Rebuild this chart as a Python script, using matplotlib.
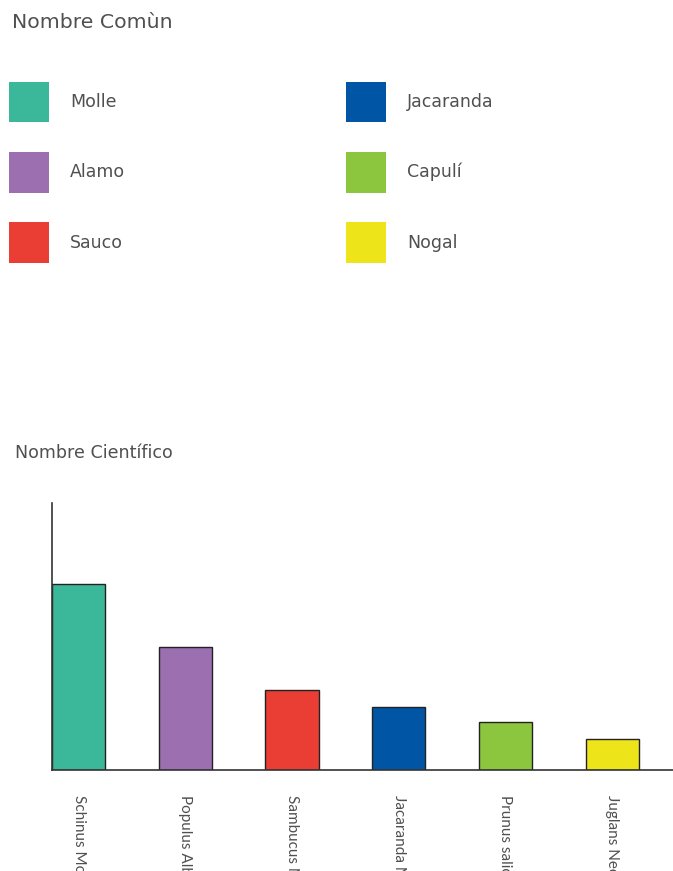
import matplotlib.pyplot as plt
from matplotlib.patches import Patch

# data (bar heights in arbitrary units, no y ticks shown)
common_names = ["Molle", "Alamo", "Sauco", "Jacaranda", "Capulí", "Nogal"]
scientific_names = ["Schinus Molle", "Populus Alba", "Sambucus Nigra",
                    "Jacaranda Mimosifolia", "Prunus salicifolia", "Juglans Neotropica"]
values = [186, 123, 80, 63, 48, 31]
colors = ["#3BB89A", "#9B6FB0", "#EA3E35", "#0055A5", "#8CC63F", "#EDE51A"]

TEXT = "#505050"
plt.rcParams["font.family"] = ["DejaVu Sans"]

W, H = 673, 871
fig = plt.figure(figsize=(W / 100, H / 100), dpi=100)

# titles
fig.text(12 / W, 1 - 23 / H, "Nombre Comùn", fontsize=14.7, color=TEXT,
         ha="left", va="center")
fig.text(15 / W, 1 - 453 / H, "Nombre Científico", fontsize=12.6, color=TEXT,
         ha="left", va="center")

# legend, two columns of three
fs = 12.5
for col, x0 in enumerate([9, 346]):
    idx = range(col * 3, col * 3 + 3)
    handles = [Patch(facecolor=colors[i], edgecolor="none") for i in idx]
    labels = [common_names[i] for i in idx]
    leg = fig.legend(handles, labels, loc="upper left",
                     bbox_to_anchor=(x0 / W, 1 - 82 / H),
                     frameon=False, fontsize=fs, borderpad=0, borderaxespad=0,
                     handlelength=2.3, handleheight=3.2, handletextpad=1.2,
                     labelspacing=1.72)
    for t in leg.get_texts():
        t.set_color(TEXT)

# bar chart
ax = fig.add_axes([52 / W, 1 - 770 / H, 1 - 52 / W, (770 - 503) / H])
x = list(range(len(values)))
ax.bar(x, values, width=0.5, color=colors, edgecolor="#222222", linewidth=1.0)
ax.set_xlim(-0.25, 5.57)
ax.set_ylim(0, 267)
ax.set_yticks([])
ax.set_xticks(x)
ax.set_xticklabels(scientific_names, rotation=-90, va="top", ha="center",
                   fontsize=11, color=TEXT, family=["Lato", "DejaVu Sans"])
ax.tick_params(axis="x", length=0, pad=18)
for side in ("top", "right"):
    ax.spines[side].set_visible(False)
for side in ("left", "bottom"):
    ax.spines[side].set_color("#333333")
    ax.spines[side].set_linewidth(1.2)

fig.savefig("out.png", dpi=100)
